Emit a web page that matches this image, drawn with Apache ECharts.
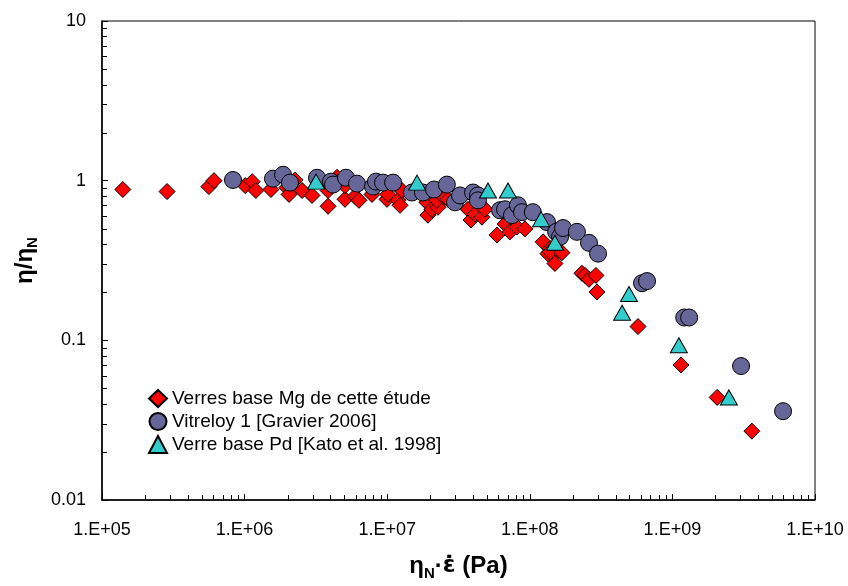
<!DOCTYPE html>
<html>
<head>
<meta charset="utf-8">
<script src="https://cdn.jsdelivr.net/npm/echarts@6/dist/echarts.min.js"></script>
<style>
html,body{margin:0;padding:0;background:#fff;}
#chart{width:848px;height:586px;}
</style>
</head>
<body>
<div id="chart"></div>
<script>
// ---- data ----
const seriesNames = ['Verres base Mg de cette étude', 'Vitreloy 1 [Gravier 2006]', 'Verre base Pd [Kato et al. 1998]'];

const mgX = [1.40e5, 2.86e5, 5.62e5, 6.10e5, 1.01e6, 1.13e6, 1.20e6, 1.53e6, 1.98e6, 2.05e6,
  2.26e6, 2.53e6, 2.97e6, 3.85e6, 3.85e6, 4.45e6, 5.06e6, 5.06e6, 5.95e6, 6.34e6,
  7.82e6, 9.97e6, 1.01e7, 1.19e7, 1.23e7, 1.27e7, 1.90e7, 1.93e7, 2.06e7, 2.27e7,
  2.23e7, 2.54e7, 2.42e7, 2.67e7, 3.69e7, 3.87e7, 4.13e7, 4.62e7, 4.85e7, 5.89e7,
  6.70e7, 7.26e7, 8.13e7, 9.25e7, 1.24e8, 1.34e8, 1.50e8, 1.50e8, 1.39e8, 1.39e8,
  1.68e8, 2.32e8, 2.44e8, 2.60e8, 2.91e8, 2.96e8, 5.74e8, 1.15e9, 2.06e9, 3.61e9];
const mgY = [0.880, 0.855, 0.918, 1.00, 0.931, 0.986, 0.868, 0.880, 0.905, 0.820,
  1.01, 0.868, 0.808, 0.868, 0.691, 1.05, 0.764, 0.931, 0.797, 0.753,
  0.820, 0.764, 0.820, 0.753, 0.701, 0.868, 0.732, 0.608, 0.662, 0.681,
  0.753, 0.785, 0.808, 0.764, 0.662, 0.567, 0.617, 0.591, 0.662, 0.457,
  0.535, 0.478, 0.513, 0.499, 0.414, 0.349, 0.344, 0.303, 0.375, 0.359,
  0.354, 0.263, 0.255, 0.241, 0.255, 0.201, 0.122, 0.0701, 0.0439, 0.0270];

const vitX = [8.29e5, 1.58e6, 1.86e6, 2.08e6, 3.22e6, 4.03e6, 4.17e6, 5.14e6, 6.14e6, 7.95e6,
  8.34e6, 9.35e6, 1.10e7, 1.49e7, 1.78e7, 2.13e7, 2.62e7, 2.99e7, 3.24e7, 4.00e7,
  4.33e7, 4.33e7, 6.18e7, 6.70e7, 7.50e7, 8.26e7, 8.81e7, 1.05e8, 1.32e8, 1.53e8,
  1.63e8, 1.71e8, 2.14e8, 2.60e8, 3.01e8, 6.12e8, 6.64e8, 1.21e9, 1.31e9, 3.03e9, 5.97e9];
const vitY = [1.01, 1.029, 1.089, 0.972, 1.043, 0.986, 0.945, 1.043, 0.958, 0.918,
  0.986, 0.972, 0.972, 0.843, 0.843, 0.880, 0.945, 0.732, 0.808, 0.843,
  0.808, 0.753, 0.653, 0.662, 0.608, 0.701, 0.635, 0.635, 0.550, 0.478,
  0.445, 0.505, 0.478, 0.408, 0.349, 0.228, 0.235, 0.139, 0.139, 0.0690, 0.0360];

const pdX = [3.17e6, 1.62e7, 5.09e7, 7.03e7, 1.20e8, 1.50e8, 4.96e8, 4.44e8, 1.11e9, 2.49e9];
const pdY = [0.986, 0.972, 0.868, 0.868, 0.574, 0.408, 0.195, 0.149, 0.0931, 0.0439];

const xTickLabels = ['1.E+05', '1.E+06', '1.E+07', '1.E+08', '1.E+09', '1.E+10'];
const yTickLabels = ['0.01', '0.1', '1', '10'];

// ---- minor ticks (log 2..9) ----
const xMinor = [];
for (let e = 5; e < 10; e++) for (let k = 2; k <= 9; k++) xMinor.push([k * Math.pow(10, e), 0.01]);
const yMinor = [];
for (let e = -2; e < 1; e++) for (let k = 2; k <= 9; k++) yMinor.push([1e5, k * Math.pow(10, e)]);

const zip = (a, b) => a.map((v, i) => [v, b[i]]);
const FONT = 'Liberation Sans, Arial, sans-serif';

const chart = echarts.init(document.getElementById('chart'), null, {renderer: 'canvas'});
chart.setOption({
  animation: false,
  backgroundColor: '#fff',
  grid: {left: 102, right: 33, top: 21, bottom: 79, show: true, borderColor: '#000', borderWidth: 1, backgroundColor: 'transparent'},
  legend: {
    orient: 'vertical', left: 148, top: 389, padding: 0,
    itemWidth: 18, itemHeight: 17, itemGap: 4,
    data: seriesNames,
    textStyle: {fontFamily: FONT, fontSize: 19, color: '#000', lineHeight: 17}
  },
  xAxis: {
    type: 'log', logBase: 10, min: 1e5, max: 1e10,
    name: '{a|η}{s|N}{a|·}{e|ε̇}{a| (Pa)}',
    nameLocation: 'middle', nameGap: 51,
    nameTextStyle: {
      rich: {
        a: {fontFamily: FONT, fontSize: 24, fontWeight: 'bold', color: '#000', lineHeight: 30},
        e: {fontFamily: 'DejaVu Sans', fontSize: 23, fontWeight: 'bold', color: '#000', lineHeight: 30},
        s: {fontFamily: FONT, fontSize: 15, fontWeight: 'bold', color: '#000', lineHeight: 30, verticalAlign: 'bottom'}
      }
    },
    axisLine: {show: true, lineStyle: {color: '#000', width: 1.5}},
    axisTick: {show: true, inside: true, length: 6, lineStyle: {color: '#000'}},
    axisLabel: {
      margin: 21, fontFamily: FONT, fontSize: 18, color: '#000',
      formatter: v => xTickLabels[Math.round(Math.log10(v)) - 5]
    },
    splitLine: {show: false}
  },
  yAxis: {
    type: 'log', logBase: 10, min: 0.01, max: 10,
    name: '{a|η/η}{s|N}',
    nameLocation: 'middle', nameGap: 60, nameRotate: 90,
    nameTextStyle: {
      rich: {
        a: {fontFamily: FONT, fontSize: 24, fontWeight: 'bold', color: '#000', lineHeight: 30},
        s: {fontFamily: FONT, fontSize: 15, fontWeight: 'bold', color: '#000', lineHeight: 30, verticalAlign: 'bottom'}
      }
    },
    axisLine: {show: true, lineStyle: {color: '#000', width: 1.5}},
    axisTick: {show: true, inside: true, length: 6, lineStyle: {color: '#000'}},
    axisLabel: {
      margin: 16, fontFamily: FONT, fontSize: 18, color: '#000',
      formatter: v => yTickLabels[Math.round(Math.log10(v)) + 2]
    },
    splitLine: {show: false}
  },
  series: [
    {
      name: seriesNames[0], type: 'scatter', symbol: 'diamond', symbolSize: 16,
      data: zip(mgX, mgY),
      itemStyle: {color: '#FF0000', borderColor: '#000', borderWidth: 1, opacity: 1}
    },
    {
      name: seriesNames[1], type: 'scatter', symbol: 'circle', symbolSize: 17,
      data: zip(vitX, vitY),
      itemStyle: {color: '#666699', borderColor: '#000', borderWidth: 1, opacity: 1}
    },
    {
      name: seriesNames[2], type: 'scatter', symbol: 'triangle', symbolSize: [17, 15],
      data: zip(pdX, pdY),
      itemStyle: {color: '#33CCCC', borderColor: '#000', borderWidth: 1, opacity: 1}
    },
    {
      type: 'custom', silent: true, data: xMinor, z: 1,
      renderItem: (params, api) => {
        const p = api.coord([api.value(0), api.value(1)]);
        const x = Math.round(p[0]) + 0.5;
        return {type: 'line', shape: {x1: x, y1: p[1], x2: x, y2: p[1] - 5}, style: {stroke: '#000', lineWidth: 1}};
      }
    },
    {
      type: 'custom', silent: true, data: yMinor, z: 1,
      renderItem: (params, api) => {
        const p = api.coord([api.value(0), api.value(1)]);
        const y = Math.round(p[1]) + 0.5;
        return {type: 'line', shape: {x1: p[0], y1: y, x2: p[0] + 5, y2: y}, style: {stroke: '#000', lineWidth: 1}};
      }
    }
  ]
});
</script>
</body>
</html>
